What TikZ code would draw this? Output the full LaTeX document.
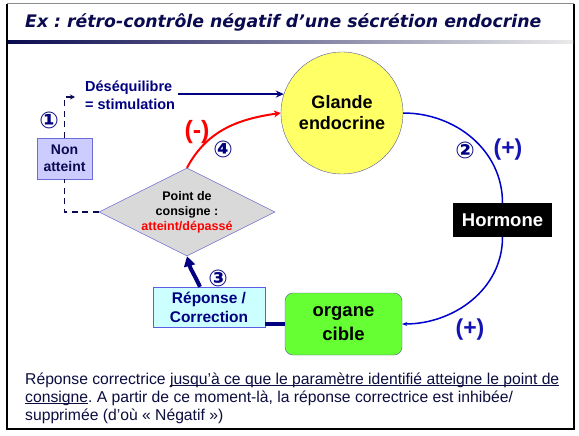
\documentclass[tikz,border=0pt]{standalone}
\usepackage{fontspec}
\setmainfont{Liberation Sans}
\newfontfamily\titlefont{DejaVu Sans}
\newfontfamily\numfont{DejaVu Sans}
\usetikzlibrary{positioning,arrows.meta,shapes.geometric}
\frenchspacing
\definecolor{navyblue}{HTML}{000080}
\definecolor{darknavy}{HTML}{0A0A50}
\definecolor{textnavy}{HTML}{0D0D40}
\definecolor{glandyellow}{HTML}{FFFF66}
\definecolor{organgreen}{HTML}{66FF33}
\definecolor{nonfill}{HTML}{CCCCFF}
\definecolor{repfill}{HTML}{CCFFFF}
\definecolor{diamgray}{HTML}{D9D9D9}
\definecolor{edgeblue}{HTML}{5A5AA0}
\definecolor{lineblue}{HTML}{0000CC}
\definecolor{plusblue}{HTML}{1414B4}
\tikzset{
  gland/.style={circle, draw=edgeblue, fill=glandyellow, minimum size=122pt,
                inner sep=0pt, align=center, font=\bfseries\fontsize{18}{21}\selectfont},
  hormbox/.style={fill=black, text=white, minimum width=99pt, minimum height=34pt,
                  inner sep=0pt, font=\bfseries\fontsize{18.5}{21}\selectfont},
  organbox/.style={draw=edgeblue, fill=organgreen, rounded corners=8pt, align=center,
                   minimum width=117pt, minimum height=62pt, inner sep=0pt,
                   font=\bfseries\fontsize{18.5}{24}\selectfont},
  setpt/.style={diamond, aspect=2, draw=blue!55!white!80!black, fill=diamgray, inner sep=0pt,
                minimum width=176pt, minimum height=88pt, align=center,
                font=\bfseries\fontsize{12.5}{15}\selectfont},
  nonbox/.style={draw=blue!50!white!85!black, fill=nonfill, text=darknavy, align=center,
                 minimum width=55pt, minimum height=41pt, inner sep=0pt,
                 font=\bfseries\fontsize{14}{17}\selectfont},
  repbox/.style={draw=blue!60!white!90!black, fill=repfill, text=navyblue, align=center,
                 minimum width=112pt, minimum height=40pt, inner sep=0pt,
                 font=\bfseries\fontsize{15.5}{19}\selectfont},
  lbl/.style={text=navyblue, align=left, inner xsep=3pt, inner ysep=0pt,
              font=\bfseries\fontsize{14.5}{18}\selectfont},
  num/.style={text=navyblue, inner sep=0pt, font=\numfont\bfseries\fontsize{23}{23}\selectfont},
  sign/.style={inner sep=0pt, font=\bfseries\fontsize{23}{23}\selectfont},
  flow/.style={-{Stealth[length=8pt, width=7pt]}, line width=2.2pt, navyblue},
  hormflow/.style={line width=1.5pt, lineblue},
  dashflow/.style={dash pattern=on 6pt off 4.5pt, line width=1.5pt, darknavy},
  backflow/.style={-{Stealth[length=7pt, width=7pt]}, line width=2pt, red},
  thickflow/.style={line width=4pt, navyblue},
}
\begin{document}
\begin{tikzpicture}[x=1pt, y=-1pt]
  \useasboundingbox (0,0) rectangle (579,436);
  \fill[white] (0,0) rectangle (579,436);
  % frame and title
  \draw[black!45, line width=1pt] (7,4) -- (574,4);
  \draw[black, line width=2pt] (7,4) -- (7,429) -- (574,429) -- (574,4);
  \shade[left color=darknavy, right color=black!8] (8,40.5) rectangle (573,43.5);
  \node[anchor=base west, inner sep=0pt, text=darknavy,
        font=\titlefont\bfseries\itshape\fontsize{17.3}{20}\selectfont] (title) at (25,28)
    {Ex : rétro-contrôle négatif d’une sécrétion endocrine};

  % nodes
  \node[gland] (gl) at (342,113) {Glande\\endocrine};
  \node[hormbox] (horm) at (502.5,220) {Hormone};
  \node[organbox] (org) at (343.5,324) {organe\\cible};
  \node[repbox] (rep) at (209,307) {Réponse /\\Correction};
  \node[setpt] (pc) at (187,212) {Point de\\consigne :\\\textcolor{red}{atteint/dépassé}};
  \node[nonbox] (non) at (64.5,158.5) {Non\\atteint};
  \node[lbl, anchor=west] (deseq) at (82,95) {Déséquilibre\\= stimulation};
  \coordinate (dtip) at (75,97);

  % connectors
  \draw[hormflow] (gl.east) to[out=0, in=90] (horm.north);
  \draw[hormflow, -{Stealth[length=5pt, width=4pt]}] (horm.south) to[out=-90, in=0] (org.east);
  \draw[thickflow] (org.west) -- (org.west -| rep.east);
  \draw[thickflow, -{Triangle[length=10pt, width=11pt]}] ([xshift=-9pt]rep.north)
    to[out=115, in=-75] (pc.south);
  \draw[backflow] (pc.north) to[out=62, in=188] (gl.west);
  \draw[flow] (deseq.east |- gl.162) -- (gl.162);
  \draw[dashflow] (pc.west) -| (non.south);
  \draw[dashflow, -{Stealth[length=5pt, width=5pt]}] (non.north) |- (dtip);

  % labels
  \foreach \n/\x/\y [count=\i] in {①/49/120, ②/465/150, ③/218/278, ④/223/149}
    \node[num] (step\i) at (\x,\y) {\n};
  \node[sign, text=plusblue] (plusa) at (508,150) {(+)};
  \node[sign, text=plusblue] (plusb) at (470,330) {(+)};
  \node[sign, text=red, font=\bfseries\fontsize{25}{25}\selectfont] (minus) at (197,132) {(-)};

  % note
  \node[anchor=north west, align=left, inner sep=0pt, text=textnavy,
        font=\fontsize{15.7}{18}\selectfont] (note) at (25,372.5)
    {Réponse correctrice \underline{\smash{jusqu’à ce que le paramètre identifié atteigne le point de}}\\
     \underline{\smash{consigne}}. A partir de ce moment-là, la réponse correctrice est inhibée/\\
     supprimée (d’où «~Négatif~»)};
\end{tikzpicture}
\end{document}
